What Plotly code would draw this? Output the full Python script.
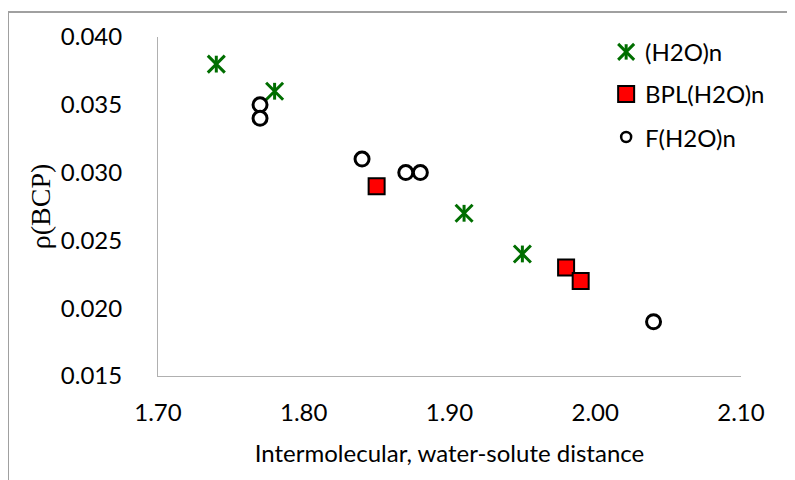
import plotly.graph_objects as go

# Data
h2o_x = [1.74, 1.78, 1.91, 1.95]
h2o_y = [0.038, 0.036, 0.027, 0.024]
bpl_x = [1.85, 1.98, 1.99]
bpl_y = [0.029, 0.023, 0.022]
f_x = [1.77, 1.77, 1.84, 1.87, 1.88, 2.04]
f_y = [0.035, 0.034, 0.031, 0.030, 0.030, 0.019]
series_names = ["(H2O)n", "BPL(H2O)n", "F(H2O)n"]
x_ticks = [1.70, 1.80, 1.90, 2.00, 2.10]
y_ticks = [0.015, 0.020, 0.025, 0.030, 0.035, 0.040]

GREEN = "#006e00"
FONT = "Lato"

fig = go.Figure()

# (H2O)n asterisks: X plus vertical bar
for sym, sz in [("x-thin-open", 17), ("line-ns-open", 12)]:
    fig.add_trace(go.Scatter(
        x=h2o_x, y=h2o_y, mode="markers", showlegend=False, hoverinfo="skip",
        marker=dict(symbol=sym, size=sz,
                    line=dict(color=GREEN, width=3), color=GREEN)))

fig.add_trace(go.Scatter(
    x=bpl_x, y=bpl_y, mode="markers", showlegend=False,
    marker=dict(symbol="square", size=16, color="#ff0000",
                line=dict(color="#000000", width=2))))

fig.add_trace(go.Scatter(
    x=f_x, y=f_y, mode="markers", showlegend=False,
    marker=dict(symbol="circle", size=14, color="#ffffff",
                line=dict(color="#000000", width=3))))

# Manual legend on an overlay axis
leg_x = 0.803
leg_y = [0.956, 0.832, 0.705]
for sym, sz in [("x-thin-open", 16), ("line-ns-open", 11)]:
    fig.add_trace(go.Scatter(
        x=[leg_x], y=[leg_y[0]], xaxis="x2", yaxis="y2", mode="markers",
        showlegend=False, hoverinfo="skip",
        marker=dict(symbol=sym, size=sz,
                    line=dict(color=GREEN, width=3), color=GREEN)))
fig.add_trace(go.Scatter(
    x=[leg_x], y=[leg_y[1]], xaxis="x2", yaxis="y2", mode="markers",
    showlegend=False, hoverinfo="skip",
    marker=dict(symbol="square", size=16, color="#ff0000",
                line=dict(color="#000000", width=2))))
fig.add_trace(go.Scatter(
    x=[leg_x], y=[leg_y[2]], xaxis="x2", yaxis="y2", mode="markers",
    showlegend=False, hoverinfo="skip",
    marker=dict(symbol="circle", size=10, color="#ffffff",
                line=dict(color="#000000", width=2.5))))

for name, yy in zip(series_names, leg_y):
    fig.add_annotation(x=0.832, y=yy, xref="x2", yref="y2", text=name,
                       showarrow=False, xanchor="left", yanchor="middle",
                       font=dict(family=FONT, size=24, color="#000000"))

# Outer chart border (clipped by the image edges)
fig.add_shape(type="rect", xref="paper", yref="paper",
              x0=-0.2573, x1=2.0, y0=-1.0, y1=1.0737,
              line=dict(color="#a0a0a0", width=2), layer="below")

# The page body has an 8px default margin, so the figure is sized and
# placed to compensate (figure origin sits at page (8, 8)).
fig.update_layout(
    width=787, height=472,
    margin=dict(l=150, r=54, t=29, b=104),
    paper_bgcolor="white", plot_bgcolor="white",
    font=dict(family=FONT, size=24, color="#000000"),
    xaxis=dict(range=[1.70, 2.10], tickvals=x_ticks,
               ticktext=[f"{v:.2f}" for v in x_ticks],
               showgrid=False, zeroline=False, showline=True,
               linecolor="#b0b0b0", linewidth=1, ticks="",
               ticklabelstandoff=15,
               tickfont=dict(family=FONT, size=24),
               title=dict(text="Intermolecular, water-solute distance",
                          font=dict(family=FONT, size=24), standoff=20)),
    yaxis=dict(range=[0.015, 0.040], tickvals=y_ticks,
               ticktext=[f"{v:.3f}" for v in y_ticks],
               showgrid=False, zeroline=False, showline=True,
               linecolor="#b0b0b0", linewidth=1, ticks="",
               ticklabelstandoff=30,
               tickfont=dict(family=FONT, size=24),
               title=dict(text="ρ(BCP)",
                          font=dict(family="Liberation Serif", size=28),
                          standoff=2)),
    xaxis2=dict(range=[0, 1], overlaying="x", visible=False, fixedrange=True),
    yaxis2=dict(range=[0, 1], overlaying="y", visible=False, fixedrange=True),
)

fig.write_html("out.html")
